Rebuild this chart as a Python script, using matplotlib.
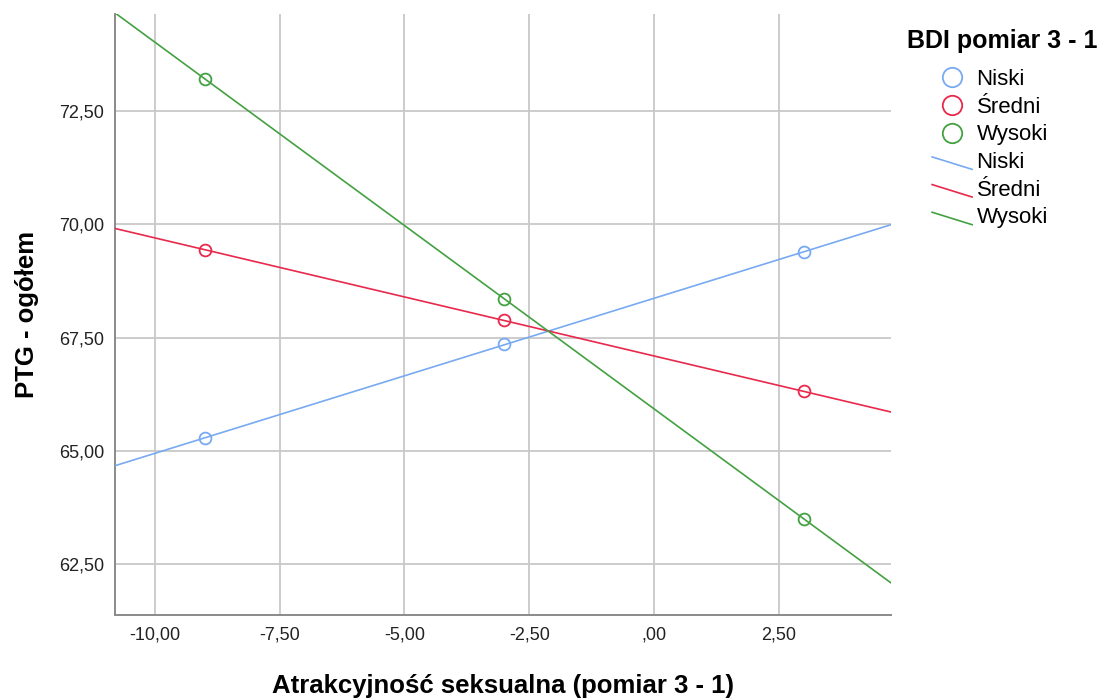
import numpy as np
import matplotlib
matplotlib.use('Agg')
import matplotlib.pyplot as plt
from matplotlib.lines import Line2D
from matplotlib.legend_handler import HandlerBase
from matplotlib.ticker import FuncFormatter, FixedLocator

# dane
x_pts = [-9.0, -3.0, 3.0]
groups = ['Niski', 'Średni', 'Wysoki']
niski = [65.28, 67.35, 69.39]
sredni = [69.44, 67.88, 66.31]
wysoki = [73.22, 68.35, 63.50]
colors = ['#78aaf2', '#e8294c', '#43a141']
xticks = [-10, -7.5, -5, -2.5, 0, 2.5]
yticks = [62.5, 65, 67.5, 70, 72.5]
xlim = (-10.8, 4.75)
ylim = (61.37, 74.65)

narrow = ['Liberation Sans Narrow', 'Liberation Sans', 'DejaVu Sans']
normal = ['Liberation Sans', 'DejaVu Sans']

def fmt(v, pos=None):
    s = '%.2f' % v
    s = s.replace('.', ',')
    if s in ('0,00', '-0,00'):
        return ',00'
    return s

class DiagHandler(HandlerBase):#ukośna linia w legendzie jak w SPSS
    def create_artists(self, legend, orig_handle, xdescent, ydescent, width, height, fontsize, trans):
        l = Line2D([-xdescent, -xdescent + width], [-ydescent + height * 0.72, -ydescent - height * 0.08],
                   color=orig_handle.get_color(), lw=orig_handle.get_linewidth(), transform=trans)
        return [l]

fig = plt.figure(figsize=(11.06, 7), dpi=100)
ax = fig.add_axes([115/1106, 85/700, (891-115)/1106, (615-14)/700])

xs = np.array(xlim)
for ys, c in zip([niski, sredni, wysoki], colors):
    k, b = np.polyfit(x_pts, ys, 1)
    ax.plot(xs, k * xs + b, color=c, lw=1.2, zorder=3, clip_on=True)
    ax.plot(x_pts, ys, 'o', mfc='none', mec=c, mew=1.3, ms=8.5, zorder=4)

ax.set_xlim(*xlim)
ax.set_ylim(*ylim)
ax.xaxis.set_major_locator(FixedLocator(xticks))
ax.yaxis.set_major_locator(FixedLocator(yticks))
ax.xaxis.set_major_formatter(FuncFormatter(fmt))
ax.yaxis.set_major_formatter(FuncFormatter(fmt))
ax.grid(True, color='#c8c8c8', lw=1.3)
ax.set_axisbelow(True)
for s in ['top', 'right']:
    ax.spines[s].set_visible(False)
for s in ['left', 'bottom']:
    ax.spines[s].set_color('#8a8a8a')
    ax.spines[s].set_linewidth(1.4)
ax.tick_params(length=0, pad=8)
for t in ax.get_xticklabels():
    t.set_family(narrow); t.set_fontsize(13); t.set_color('#222222')
for t in ax.get_yticklabels():
    t.set_family(normal); t.set_fontsize(13); t.set_color('#222222')

ax.set_xlabel('Atrakcyjność seksualna (pomiar 3 - 1)', family=narrow, fontsize=18.5, fontweight='bold', labelpad=22)
ax.set_ylabel('PTG - ogółem', family=normal, fontsize=18.5, fontweight='bold', labelpad=14)

fig.text(907/1106, 1 - 41/700, 'BDI pomiar 3 - 1', family=normal, fontsize=18, fontweight='bold', va='center', ha='left')

handles = [Line2D([], [], ls='none', marker='o', mfc='none', mec=c, mew=1.3, ms=14) for c in colors]
handles += [Line2D([], [], color=c, lw=1.2) for c in colors]
labels = groups + groups
hmap = {h: DiagHandler() for h in handles[3:]}
leg = fig.legend(handles, labels, loc='upper left', bbox_to_anchor=(921/1106, 1 - 58/700), frameon=False,
                 prop={'family': normal, 'size': 16}, handlelength=1.8, handletextpad=0.2,
                 labelspacing=0.30, borderpad=0, handler_map=hmap)

fig.savefig('out.png', dpi=100)
